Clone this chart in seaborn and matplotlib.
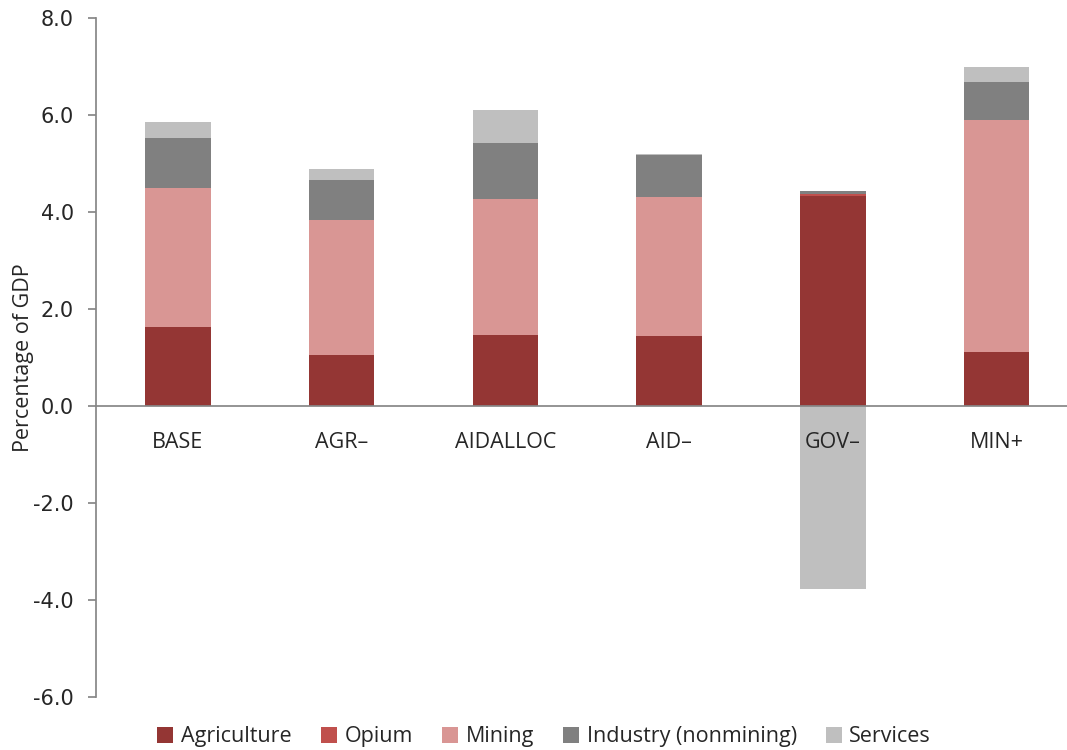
import numpy as np
import pandas as pd
import matplotlib
matplotlib.use("Agg")
import matplotlib.pyplot as plt
import seaborn as sns
from matplotlib.patches import Patch

categories = ["BASE", "AGR\u2013", "AIDALLOC", "AID\u2013", "GOV\u2013", "MIN+"]
series_names = ["Agriculture", "Opium", "Mining", "Industry (nonmining)", "Services"]
agriculture = [1.63, 1.05, 1.46, 1.44, 4.33, 1.11]
opium = [0.0, 0.0, 0.0, 0.0, 0.04, 0.0]
mining = [2.86, 2.79, 2.81, 2.87, 0.0, 4.79]
industry = [1.04, 0.82, 1.15, 0.87, 0.06, 0.78]
services = [0.33, 0.23, 0.68, 0.02, -3.77, 0.31]
y_ticks = [-6.0, -4.0, -2.0, 0.0, 2.0, 4.0, 6.0, 8.0]

colors = ["#943634", "#C0504D", "#D99694", "#808080", "#BFBFBF"]

sns.set_theme(style="white")
plt.rcParams['font.family'] = ['Open Sans', 'DejaVu Sans']

fig = plt.figure(figsize=(10.67, 7.5), dpi=100)
ax = fig.add_axes([96/1067, 1 - 697/750, (1067 - 96)/1067, (697 - 18)/750])

series = [agriculture, opium, mining, industry, services]
pos_bottom = np.zeros(len(categories))
neg_bottom = np.zeros(len(categories))
for name, vals, col in zip(series_names, series, colors):
    v = np.array(vals, dtype=float)
    bottoms = np.where(v >= 0, pos_bottom, neg_bottom)
    df = pd.DataFrame({"cat": categories, "val": v})
    sns.barplot(data=df, x="cat", y="val", bottom=bottoms, color=col,
                width=0.4, linewidth=0, saturation=1, ax=ax, order=categories)
    pos_bottom = pos_bottom + np.where(v > 0, v, 0)
    neg_bottom = neg_bottom + np.where(v < 0, v, 0)

ax.set_ylim(-6, 8)
ax.set_xlim(-0.5, 5.43)
ax.set_yticks(y_ticks)
ax.set_yticklabels([f"{t:.1f}" for t in y_ticks], family="DejaVu Sans", fontsize=15)
ax.set_xlabel("")
ax.set_ylabel("Percentage of GDP", fontsize=15.5, labelpad=-1)

for s in ["top", "right"]:
    ax.spines[s].set_visible(False)
ax.spines["bottom"].set_position(("data", 0))
ax.spines["bottom"].set_color("#868686")
ax.spines["left"].set_color("#868686")
ax.spines["bottom"].set_zorder(3)
ax.xaxis.set_zorder(4)
ax.tick_params(axis="y", left=True, length=6, color="#868686", direction="out", pad=10)
ax.tick_params(axis="x", bottom=False, pad=13, labelsize=15.5)

handles = [Patch(facecolor=c, edgecolor="none") for c in colors]
fig.legend(handles, series_names, loc="lower center", bbox_to_anchor=(0.51, -0.022),
           ncol=5, frameon=False, fontsize=15.5, handlelength=0.75, handleheight=0.75,
           handletextpad=0.35, columnspacing=1.35)

fig.savefig("out.png", dpi=100)
